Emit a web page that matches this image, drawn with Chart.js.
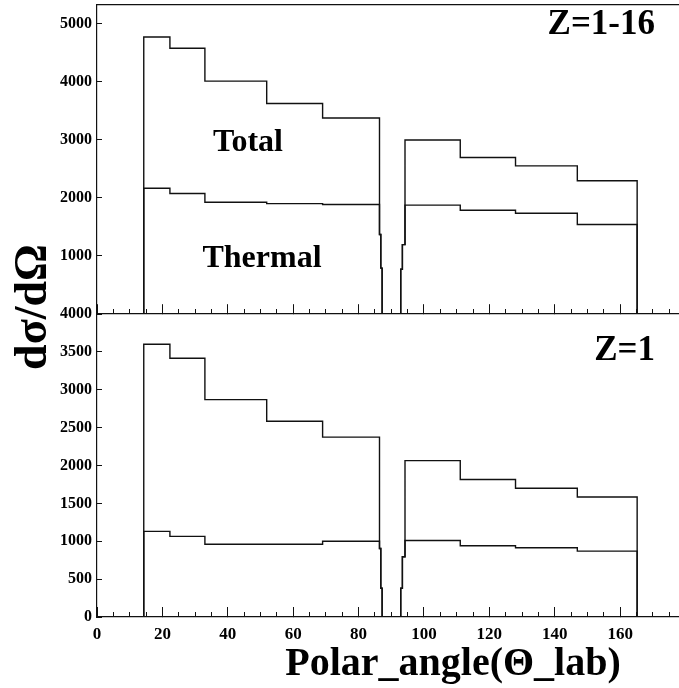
<!DOCTYPE html>
<html>
<head>
<meta charset="utf-8">
<title>Polar angle distribution</title>
<script src="https://cdn.jsdelivr.net/npm/chart.js@4/dist/chart.umd.min.js"></script>
<style>
  body { margin: 0; background: #fff; }
  #wrap { width: 679px; height: 688px; }
</style>
</head>
<body>
<div id="wrap"><canvas id="myChart" width="679" height="688"></canvas></div>
<script>
// bin edges in degrees (detector rings), shared by all four histograms
const edges = [14.3, 22.3, 33.0, 51.9, 69.0, 86.4, 86.8, 87.2, 92.9, 93.4, 94.2, 111.1, 128.0, 146.9, 165.2];

// upper panel, Z=1-16
const totalAll = [4770, 4575, 4010, 3625, 3375, 1370, 790, 0, 770, 1195, 2995, 2695, 2550, 2295];
const thermalAll = [2165, 2075, 1925, 1900, 1885, 1370, 790, 0, 770, 1195, 1875, 1785, 1735, 1540];

// lower panel, Z=1
const totalZ1 = [3600, 3415, 2870, 2585, 2375, 905, 380, 0, 380, 795, 2065, 1815, 1700, 1585];
const thermalZ1 = [1130, 1065, 960, 960, 1000, 905, 380, 0, 380, 795, 1010, 940, 915, 870];

// tick values
const xTicks = [0, 20, 40, 60, 80, 100, 120, 140, 160];
const xMinorTicks = [0, 5, 10, 15, 20, 25, 30, 35, 40, 45, 50, 55, 60, 65, 70, 75, 80, 85, 90,
  95, 100, 105, 110, 115, 120, 125, 130, 135, 140, 145, 150, 155, 160, 165, 170, 175];
const yTopTicks = [0, 1000, 2000, 3000, 4000, 5000];
const yBotTicks = [0, 500, 1000, 1500, 2000, 2500, 3000, 3500, 4000];

const xMin = 0;
const xMax = 178;
const topMax = 5320;
const botMax = 4000;

const serif = '"Liberation Serif", "Times New Roman", serif';

document.addEventListener('DOMContentLoaded', () => {
  // histogram outline: start on the axis, one point per bin, drop back to the axis
  function histPoints(vals) {
    const pts = [{ x: edges[0], y: 0 }];
    vals.forEach((v, i) => pts.push({ x: edges[i], y: v }));
    pts.push({ x: edges[edges.length - 1], y: 0 });
    return pts;
  }

  function histDataset(label, vals, yAxisID) {
    return {
      label: label,
      data: histPoints(vals),
      xAxisID: 'x',
      yAxisID: yAxisID,
      stepped: 'before',
      borderColor: '#111',
      borderWidth: 1.4,
      pointRadius: 0,
      fill: false,
    };
  }

  // fixed tick lists (chart.js would otherwise rescale the step)
  const useTicks = (list) => (scale) => {
    scale.ticks = list.map((v) => ({ value: v }));
  };
  const noPad = (scale) => {
    scale.paddingTop = 0;
    scale.paddingBottom = 0;
    scale.paddingLeft = 0;
    scale.paddingRight = 0;
  };

  // extra x axes only for the ROOT-like inward tick marks
  function tickAxis(pos, list, len, showBorder) {
    return {
      type: 'linear',
      position: pos,
      min: xMin,
      max: xMax,
      afterBuildTicks: useTicks(list),
      ticks: { display: false, autoSkip: false },
      grid: { drawOnChartArea: false, drawTicks: true, tickLength: len, color: '#111', tickWidth: 1 },
      border: { display: showBorder, color: '#111', width: 1.2 },
      afterFit: noPad,
    };
  }

  const panelText = {
    id: 'panelText',
    afterDraw(chart) {
      const ctx = chart.ctx;
      ctx.save();
      ctx.fillStyle = '#000';
      ctx.textBaseline = 'alphabetic';

      ctx.font = 'bold 35px ' + serif;
      ctx.textAlign = 'right';
      ctx.fillText('Z=1-16', 655, 34);
      ctx.fillText('Z=1', 655, 360);

      ctx.font = 'bold 32px ' + serif;
      ctx.textAlign = 'center';
      ctx.fillText('Total', 248, 151);
      ctx.fillText('Thermal', 262, 267);

      ctx.font = 'bold 40px ' + serif;
      ctx.fillText('Polar_angle(\u0398_lab)', 453, 675);

      ctx.translate(46, 307);
      ctx.rotate(-Math.PI / 2);
      ctx.font = 'bold 46px ' + serif;
      ctx.fillText('d\u03c3/d\u03a9', 0, 0);
      ctx.restore();
    },
  };

  const ctx = document.getElementById('myChart');

  new Chart(ctx, {
    type: 'line',
    data: {
      datasets: [
        histDataset('Total Z=1-16', totalAll, 'yTop'),
        histDataset('Thermal Z=1-16', thermalAll, 'yTop'),
        histDataset('Total Z=1', totalZ1, 'yBot'),
        histDataset('Thermal Z=1', thermalZ1, 'yBot'),
      ],
    },
    options: {
      responsive: false,
      animation: false,
      layout: { padding: { top: 5, right: 0, bottom: 0, left: 0 } },
      plugins: {
        legend: { display: false },
        tooltip: { enabled: false },
      },
      scales: {
        x: {
          type: 'linear',
          position: 'bottom',
          min: xMin,
          max: xMax,
          afterBuildTicks: useTicks(xTicks),
          ticks: {
            autoSkip: false,
            maxRotation: 0,
            padding: 17,
            color: '#000',
            font: { family: serif, size: 17, weight: 'bold' },
            callback: (v) => String(v),
          },
          grid: { drawOnChartArea: false, tickLength: -10, color: '#111' },
          border: { color: '#111', width: 1.2 },
          afterFit(scale) { noPad(scale); scale.height = 71; },
        },
        xBotMinor: tickAxis({ yBot: 0 }, xMinorTicks, -5, false),
        xTopMajor: tickAxis({ yTop: 0 }, xTicks, -10, true),
        xTopMinor: tickAxis({ yTop: 0 }, xMinorTicks, -5, false),
        xFrame: {
          type: 'linear',
          position: { yTop: topMax },
          min: xMin,
          max: xMax,
          ticks: { display: false },
          grid: { drawOnChartArea: false, drawTicks: false },
          border: { display: true, color: '#111', width: 1.2 },
          afterFit: noPad,
        },
        yBot: {
          type: 'linear',
          position: 'left',
          stack: 'panels',
          stackWeight: 303,
          min: 0,
          max: botMax,
          afterBuildTicks: useTicks(yBotTicks),
          ticks: {
            autoSkip: false,
            padding: 10,
            color: '#000',
            font: { family: serif, size: 16, weight: 'bold' },
            callback: (v) => String(v),
          },
          grid: { drawOnChartArea: false, tickLength: -5, color: '#111' },
          border: { color: '#111', width: 1.2 },
          afterFit(scale) { noPad(scale); scale.width = 97; },
        },
        yTop: {
          type: 'linear',
          position: 'left',
          stack: 'panels',
          stackWeight: 309,
          min: 0,
          max: topMax,
          afterBuildTicks: useTicks(yTopTicks),
          ticks: {
            autoSkip: false,
            padding: 10,
            color: '#000',
            font: { family: serif, size: 16, weight: 'bold' },
            callback: (v) => (v === 0 ? '' : String(v)),
          },
          grid: { drawOnChartArea: false, tickLength: -5, color: '#111' },
          border: { color: '#111', width: 1.2 },
          afterFit(scale) { noPad(scale); scale.width = 97; },
        },
      },
    },
    plugins: [panelText],
  });
});
</script>
</body>
</html>
